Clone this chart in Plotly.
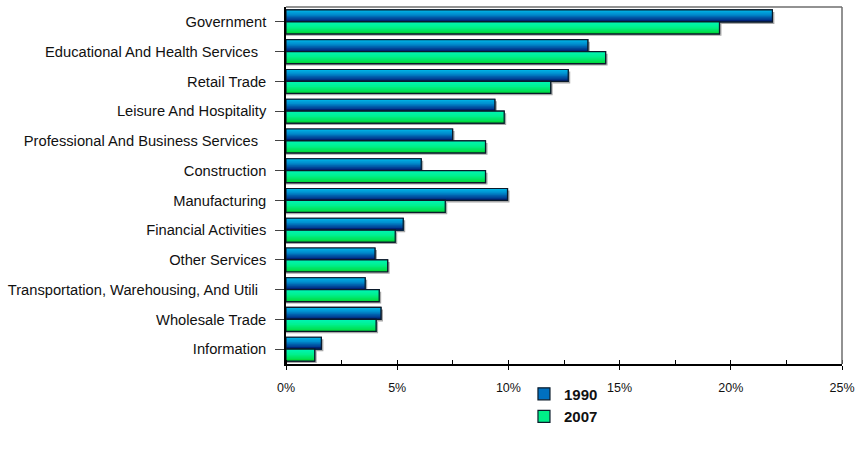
import plotly.graph_objects as go

categories = [
    "Government",
    "Educational And Health Services\u00a0\u00a0",
    "Retail Trade",
    "Leisure And Hospitality",
    "Professional And Business Services\u00a0\u00a0",
    "Construction",
    "Manufacturing",
    "Financial Activities",
    "Other Services",
    "Transportation, Warehousing, And Utili\u00a0\u00a0",
    "Wholesale Trade",
    "Information",
]
share_1990 = [21.87, 13.57, 12.69, 9.39, 7.49, 6.08, 9.96, 5.27, 4.0, 3.56, 4.27, 1.59]
share_2007 = [19.49, 14.37, 11.9, 9.81, 8.97, 8.97, 7.16, 4.91, 4.57, 4.19, 4.05, 1.29]
x_ticks = [0, 5, 10, 15, 20, 25]
x_tick_labels = ["0%", "5%", "10%", "15%", "20%", "25%"]

pos = list(range(len(categories)))

def hex2rgb(h):
    h = h.lstrip("#")
    return [int(h[i:i + 2], 16) for i in (0, 2, 4)]

def grad(stops, t):
    for (t0, c0), (t1, c1) in zip(stops[:-1], stops[1:]):
        if t0 <= t <= t1:
            f = (t - t0) / (t1 - t0) if t1 > t0 else 0
            a, b = hex2rgb(c0), hex2rgb(c1)
            return "rgb(%d,%d,%d)" % tuple(round(a[i] + (b[i] - a[i]) * f) for i in range(3))
    return stops[-1][1]

series = [
    dict(name="1990", values=share_1990, offset=-0.4,
         stops=[(0, "#00b8e8"), (0.35, "#0090d0"), (0.7, "#0050a0"), (1, "#001a70")],
         mid="#0070c0"),
    dict(name="2007", values=share_2007, offset=0.0,
         stops=[(0, "#00f4b8"), (0.45, "#00f08c"), (1, "#00d838")],
         mid="#00ee88"),
]
W = 0.4
N = 10
px_y = 1 / 29.75
px_x = 25 / 555.0

fig = go.Figure()

# shadows
for s in series:
    fig.add_trace(go.Bar(
        y=pos, x=[v + 2 * px_x for v in s["values"]], orientation="h",
        width=W, offset=s["offset"] + 2 * px_y,
        marker=dict(color="#a8a8a8", line=dict(width=0)),
        showlegend=False, hoverinfo="skip"))

for s in series:
    fig.add_trace(go.Bar(
        y=pos, x=s["values"], orientation="h", name=s["name"],
        width=W, offset=s["offset"],
        marker=dict(color=s["mid"], line=dict(color="#0a1a2a", width=1.2)),
        showlegend=True))
    for k in range(N):
        t = (k + 0.5) / N
        fig.add_trace(go.Bar(
            y=pos, x=s["values"], orientation="h",
            width=W - k * W / N, offset=s["offset"] + k * W / N,
            marker=dict(color=grad(s["stops"], t), line=dict(width=0)),
            showlegend=False, hoverinfo="skip"))
    fig.add_trace(go.Bar(
        y=pos, x=s["values"], orientation="h",
        width=W, offset=s["offset"],
        marker=dict(color="rgba(0,0,0,0)", line=dict(color="#0a1a2a", width=1.2)),
        showlegend=False, hoverinfo="skip"))

fig.update_layout(
    width=865, height=454,
    margin=dict(l=286, r=23, t=7, b=90, pad=0),
    barmode="overlay",
    plot_bgcolor="white", paper_bgcolor="white",
    font=dict(family="Liberation Sans, Arial, sans-serif", color="#111"),
    legend=dict(x=0.428, y=-0.038, xanchor="left", yanchor="top",
                font=dict(size=15, color="#111", family="Liberation Sans, Arial, sans-serif", weight="bold"),
                bgcolor="rgba(0,0,0,0)", tracegroupgap=0, itemwidth=30),
    shapes=[
        dict(type="line", xref="paper", yref="paper", x0=0, x1=1, y0=1, y1=1,
             line=dict(color="#6e6e6e", width=1.5), layer="above"),
        dict(type="line", xref="paper", yref="paper", x0=1, x1=1, y0=0, y1=1,
             line=dict(color="#6e6e6e", width=1.5), layer="above"),
    ],
)
fig.update_xaxes(
    range=[0, 25], tickvals=x_ticks, ticktext=x_tick_labels,
    showgrid=False, zeroline=False,
    showline=True, linecolor="#000", linewidth=1.5,
    ticks="outside", ticklen=4, tickcolor="#000", tickwidth=1,
    minor=dict(ticks="inside", ticklen=4, dtick=2.5, tick0=0, tickcolor="#000", tickwidth=1, showgrid=False),
    tickfont=dict(size=12.5, color="#111"), ticklabelstandoff=7,
)
fig.update_yaxes(
    range=[11.5, -0.5], tickvals=pos, ticktext=categories,
    showgrid=False, zeroline=False,
    showline=True, linecolor="#000", linewidth=1.5,
    ticks="outside", ticklen=9, tickcolor="#444", tickwidth=1,
    tickfont=dict(size=14.7, color="#111"), ticklabelstandoff=6,
)

fig.write_html("out.html")
